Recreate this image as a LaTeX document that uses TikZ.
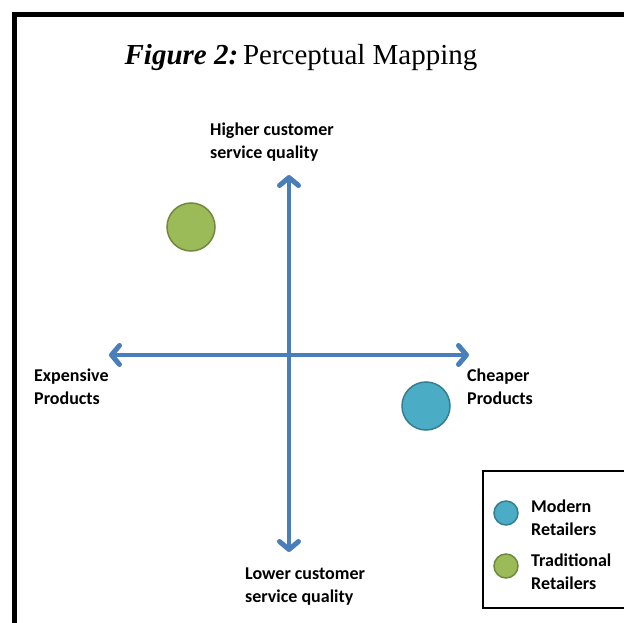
\documentclass[tikz,border=0pt]{standalone}
\usepackage{fontspec}
\setmainfont{Liberation Serif}
\newfontfamily\labelfont{Carlito}
\usetikzlibrary{arrows.meta}
\definecolor{axisblue}{HTML}{4A7EBB}
\definecolor{modernfill}{HTML}{4BACC6}
\definecolor{moderndraw}{HTML}{357D91}
\definecolor{tradfill}{HTML}{9BBB59}
\definecolor{traddraw}{HTML}{71893F}
\tikzset{
  axis/.style={draw=axisblue, line width=4pt, line cap=round,
    -{Straight Barb[length=8pt,width=19pt,line width=5pt,round]}},
  lbl/.style={font=\labelfont\bfseries\fontsize{18}{23}\selectfont,
    align=left, inner sep=0pt, anchor=base west},
  modern/.style={circle, fill=modernfill, draw=moderndraw, line width=1.5pt, inner sep=0pt},
  trad/.style={circle, fill=tradfill, draw=traddraw, line width=1.5pt, inner sep=0pt}
}
\begin{document}
\begin{tikzpicture}[x=1pt,y=-1pt]
  \useasboundingbox (0,0) rectangle (624,623);
  \clip (0,0) rectangle (624,623);
  \fill[white] (0,0) rectangle (624,623);
  % outer frame
  \draw[line width=5.5pt] (14.5,640) -- (14.5,14.5) -- (640,14.5);
  % title
  \node[inner sep=0pt, anchor=base] (title) at (301,65)
    {\fontsize{29}{32}\selectfont\textbf{\textit{Figure 2:}}\,Perceptual Mapping};
  % axes
  \coordinate (c) at (289,355);
  \coordinate (top) at (289,175);
  \coordinate (bottom) at (289,552);
  \coordinate (left) at (109,355);
  \coordinate (right) at (469,355);
  \draw[axis] (c) -- (top);
  \draw[axis] (c) -- (bottom);
  \draw[axis] (c) -- (left);
  \draw[axis] (c) -- (right);
  % axis labels (anchored at the baseline of the last line)
  \node[lbl] (higher) at (210,159) {Higher customer\\service quality};
  \node[lbl] (lower) at (245,602) {Lower customer\\service quality};
  \node[lbl] (expensive) at (34,404) {Expensive\\Products};
  \node[lbl] (cheaper) at (467,404) {Cheaper\\Products};
  % retailers
  \node[trad, minimum size=48pt] (tradpt) at (191,227) {};
  \node[modern, minimum size=48pt] (modernpt) at (426,406) {};
  % legend
  \draw[line width=1.5pt] (650,471) -- (483,471) -- (483,608) -- (650,608);
  \node[modern, minimum size=24pt] (modkey) at (506,513) {};
  \node[trad, minimum size=24pt] (tradkey) at (506,566) {};
  \node[lbl] (modtxt) at (531,535) {Modern\\Retailers};
  \node[lbl] (tradtxt) at (531,589) {Traditional\\Retailers};
\end{tikzpicture}
\end{document}
